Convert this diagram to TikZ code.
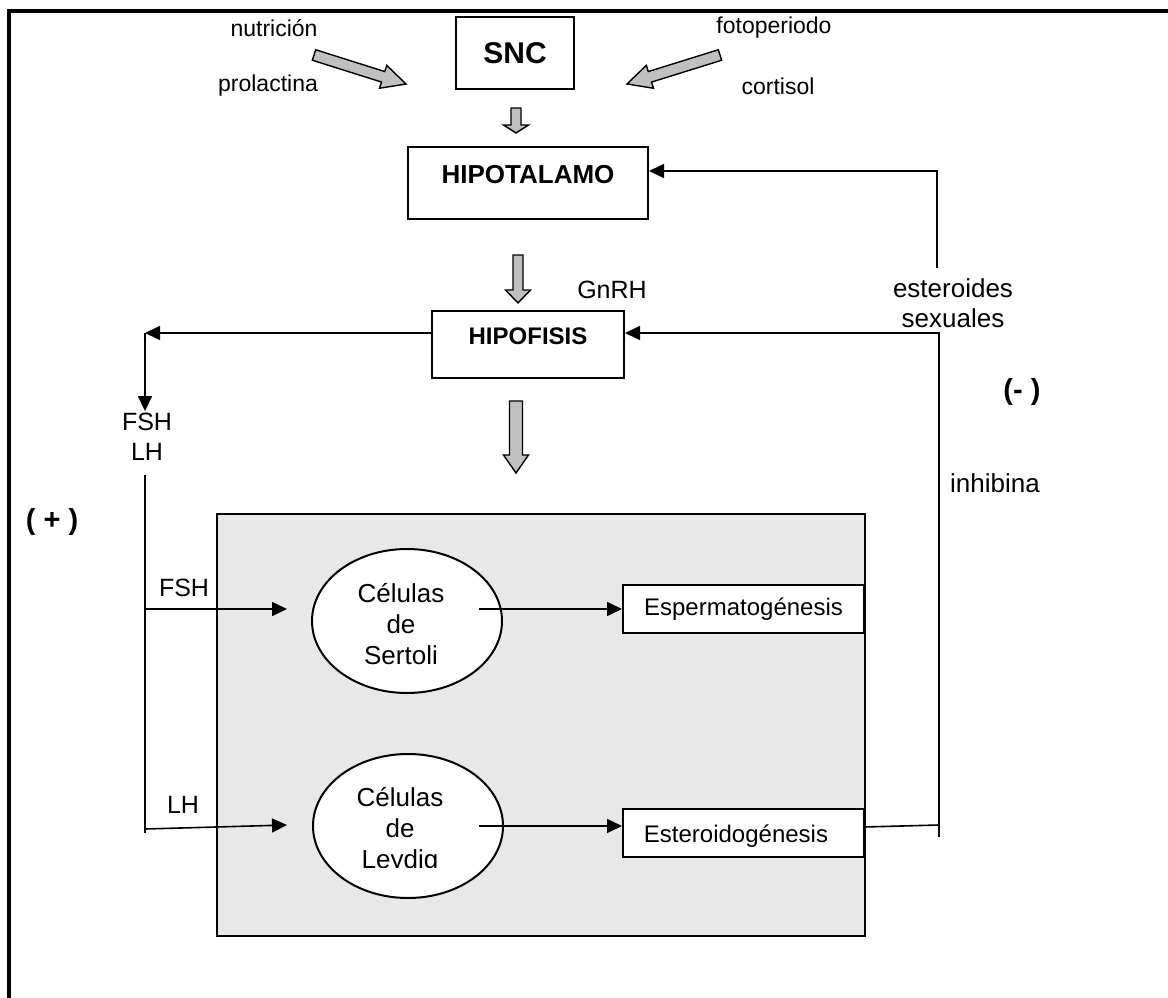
\documentclass[tikz,border=0pt]{standalone}
\usepackage{fontspec}
\setmainfont{Liberation Sans}
\usetikzlibrary{arrows.meta,shapes.geometric}

\definecolor{panelgrey}{HTML}{E8E8E8}
\definecolor{arrowgrey}{HTML}{C0C0C0}

\tikzset{
  toplbl/.style={font=\fontsize{23}{27}\selectfont, inner sep=0pt},
  lbl/.style={font=\fontsize{25}{30}\selectfont, inner sep=0pt, align=center},
  sign/.style={font=\bfseries\fontsize{29}{33}\selectfont, inner sep=0pt},
  organ/.style={draw, line width=2pt, fill=white, inner sep=0pt,
                text height=20pt, text depth=20pt},
  outcome/.style={draw, line width=2pt, fill=white, inner sep=0pt,
                  minimum width=241pt, minimum height=48pt,
                  font=\fontsize{24}{28}\selectfont},
  cell/.style={draw, ellipse, line width=2pt, fill=white, inner sep=0pt,
               minimum width=190pt, minimum height=144pt},
  celltxt/.style={font=\fontsize{26}{31}\selectfont, inner sep=0pt, align=center},
  conn/.style={line width=1.6pt, -{Triangle[length=15pt,width=14pt]}},
  wire/.style={line width=1.6pt},
  fatarrow/.style={draw, line width=1.4pt, fill=arrowgrey, line join=miter},
}

% hollow block arrow: tail x, tail y, angle, length, shaft half width, head half width, head length
\newcommand{\blockarrow}[7]{%
  \begin{scope}[shift={(#1,#2)}, rotate=#3]
    \draw[fatarrow] (0,-#5) -- ({#4-#7},-#5) -- ({#4-#7},-#6) -- (#4,0)
      -- ({#4-#7},#6) -- ({#4-#7},#5) -- (0,#5) -- cycle;
  \end{scope}}

\begin{document}
\begin{tikzpicture}[x=1pt,y=-1pt]
\useasboundingbox (0,0) rectangle (1168,998);

% outer frame
\draw[line width=3.5pt] (9,998) -- (9,11) -- (1168,11);

% testis panel
\node[draw, line width=2pt, fill=panelgrey, minimum width=648pt,
      minimum height=422pt, inner sep=0pt, anchor=north west] (testis) at (216,513) {};

% central axis
\node[draw, line width=2pt, fill=white, minimum width=118pt, minimum height=72pt,
      inner sep=0pt, font=\bfseries\fontsize{30}{36}\selectfont] (snc) at (515,53) {SNC};
\node[organ, minimum width=240pt, minimum height=72pt,
      font=\bfseries\fontsize{26}{30}\selectfont] (hipot) at (528,183) {HIPOTALAMO};
\node[organ, minimum width=192pt, minimum height=67pt,
      font=\bfseries\fontsize{24}{28}\selectfont] (hipof) at (528,344.5) {HIPOFISIS};

% external influences on the CNS
\node[toplbl] (nutri) at (274,28) {nutrición};
\node[toplbl] (prola) at (268,86) {prolactina};
\node[toplbl] (fotop) at (774,28) {fotoperiodo};
\node[toplbl] (corti) at (778,86) {cortisol};

\blockarrow{314}{55}{-17.5}{96.5}{5.5}{12}{24}
\blockarrow{720}{55}{-162.7}{97.4}{5.5}{12}{24}

% descending block arrows
\blockarrow{516}{108}{-90}{25}{5}{12.5}{8}
\blockarrow{518}{255}{-90}{48}{5}{12.5}{13}
\blockarrow{516}{401}{-90}{72}{6.5}{12.5}{18}

\node[lbl] (gnrh) at (612,290) {GnRH};

% gonadotropins to the left
\coordinate (hfCorner) at (145,333);
\node[lbl, inner sep=2pt] (fshlh) at (147,437) {FSH\\LH};
\draw[conn] (hipof.west |- hfCorner) -- (hfCorner);
\draw[conn] (hfCorner) -- (hfCorner |- fshlh.north);

\coordinate (busTop) at (145,475);
\coordinate (busBot) at (145,833);
\draw[wire] (busTop) -- (busBot);

\node[sign] (plus) at (52,522) {( + )};

% cells
\node[cell] (sertoli) at (407,621) {};
\node[celltxt] (sertolitxt) at (401,624) {Células\\de\\Sertoli};
\node[cell] (leydig) at (408,826) {};
\begin{scope}
  \clip (300,760) rectangle (520,867);
  \node[celltxt] (leydigtxt) at (400,831) {Células\\de\\Leydig};
\end{scope}

% inputs to the cells
\coordinate (fshIn) at (145,609);
\coordinate (sertIn) at (287,609);
\node[lbl] (fshlbl) at (184,588) {FSH};
\draw[conn] (fshIn) -- (sertIn);

\coordinate (lhIn) at (145,829);
\coordinate (leyIn) at (287,825);
\node[lbl] (lhlbl) at (183,805) {LH};
\draw[conn] (lhIn) -- (leyIn);

% outcomes
\node[outcome] (sperm) at (743.5,609) {Espermatogénesis};
\node[outcome] (steroid) at (743.5,833) {};
\node[inner sep=0pt, font=\fontsize{24}{28}\selectfont] (steroidtxt) at (736,836) {Esteroidogénesis};

\coordinate (sertOut) at (479,609);
\coordinate (leyOut) at (479,826);
\draw[conn] (sertOut) -- (sperm.west);
\draw[conn] (leyOut) -- (leyOut -| steroid.west);

% negative feedback
\coordinate (stOut) at (864,827);
\coordinate (fbBottom) at (939,837);
\coordinate (fbJoin) at (939,825);
\coordinate (fbMid) at (939,333);
\coordinate (fbTop) at (937,268);
\coordinate (fbCorner) at (937,171);
\draw[wire] (stOut) -- (fbJoin);
\draw[conn] (fbBottom) -- (fbMid) -- (fbMid -| hipof.east);
\draw[conn] (fbTop) -- (fbCorner) -- (fbCorner -| hipot.east);

\node[lbl, font=\fontsize{26}{30}\selectfont] (estero) at (953,303) {esteroides\\sexuales};
\node[sign] (minus) at (1022,392) {(- )};
\node[lbl, font=\fontsize{26}{30}\selectfont] (inhib) at (995,483) {inhibina};

\end{tikzpicture}
\end{document}
